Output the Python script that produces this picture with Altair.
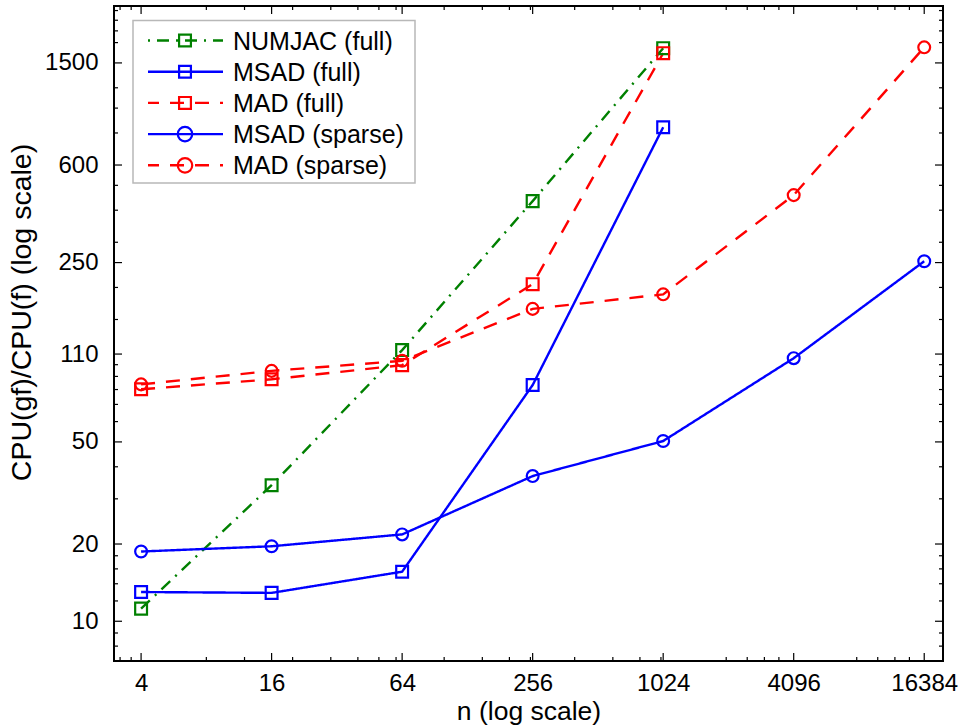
import altair as alt
import pandas as pd

# ---------------- data ----------------
n_full = [4, 16, 64, 256, 1024]
n_sparse = [4, 16, 64, 256, 1024, 4096, 16384]
numjac_full = [11.2, 33.9, 114, 434, 1712]
msad_full = [13.0, 12.9, 15.6, 83.3, 842]
mad_full = [80.2, 87.7, 99.6, 206, 1637]
msad_sparse = [18.7, 19.6, 21.8, 36.8, 50.4, 106, 253]
mad_sparse = [83.8, 94.6, 103.5, 165, 188, 458, 1725]

series_names = ["NUMJAC (full)", "MSAD (full)", "MAD (full)", "MSAD (sparse)", "MAD (sparse)"]
series_colors = ["#008000", "#0000ff", "#ff0000", "#0000ff", "#ff0000"]
series_dash = [[12, 7, 2, 7], [1, 0], [14, 11], [1, 0], [14, 11]]
series_shape = ["square", "square", "square", "circle", "circle"]
series_size = [140, 140, 140, 210, 210]

x_major = [4, 16, 64, 256, 1024, 4096, 16384]
x_minor = [3.2, 3.6, 8, 12, 20, 30, 40, 50, 60, 100, 150, 200, 250, 400, 600, 800,
           1000, 2000, 2500, 3000, 3500, 8000, 10000, 12000, 14000]
y_major = [10, 20, 50, 110, 250, 600, 1500]
y_minor = [8, 9, 12, 14, 16, 18, 30, 40, 60, 70, 80, 90, 100, 150, 200, 300, 400, 500,
           800, 1000, 1200, 1800, 2000, 2200, 2400]

x_domain = [3, 20000]
y_domain = [7, 2500]

# ---------------- layout ----------------
W, H = 829, 655
FONT = "Liberation Sans"

rows = []
for name, xs, ys in [
    (series_names[0], n_full, numjac_full),
    (series_names[1], n_full, msad_full),
    (series_names[2], n_full, mad_full),
    (series_names[3], n_sparse, msad_sparse),
    (series_names[4], n_sparse, mad_sparse),
]:
    for xv, yv in zip(xs, ys):
        rows.append({"series": name, "n": xv, "v": yv})
df = pd.DataFrame(rows)

xscale = alt.Scale(type="log", domain=x_domain, nice=False)
yscale = alt.Scale(type="log", domain=y_domain, nice=False)

color = alt.Color("series:N", scale=alt.Scale(domain=series_names, range=series_colors), legend=None)
dash = alt.StrokeDash("series:N", scale=alt.Scale(domain=series_names, range=series_dash), legend=None)
shape = alt.Shape("series:N", scale=alt.Scale(domain=series_names, range=series_shape), legend=None)
size = alt.Size("series:N", scale=alt.Scale(domain=series_names, range=series_size), legend=None)

x_axis = alt.Axis(values=x_major, format="d", ticks=False, domain=False, grid=False,
                  labelFontSize=24, labelFont=FONT, labelColor="black", labelPadding=10,
                  labelFlush=False, labelOverlap=False,
                  title="n (log scale)", titleFontSize=26.5, titleFont=FONT,
                  titleFontWeight="normal", titleColor="black", titlePadding=3)
y_axis = alt.Axis(values=y_major, format="d", ticks=False, domain=False, grid=False,
                  labelFontSize=24, labelFont=FONT, labelColor="black", labelPadding=16,
                  labelFlush=False, labelOverlap=False,
                  title="CPU(gf)/CPU(f) (log scale)", titleFontSize=28.5, titleFont=FONT,
                  titleFontWeight="normal", titleColor="black", titlePadding=8,
                  titleY=306)

X = lambda f: alt.X(f, scale=xscale, axis=x_axis)
Y = lambda f: alt.Y(f, scale=yscale, axis=y_axis)

lines = alt.Chart(df).mark_line(strokeWidth=2.4, clip=True).encode(
    x=X("n:Q"), y=Y("v:Q"), color=color, strokeDash=dash,
)

points = alt.Chart(df).mark_point(filled=False, strokeWidth=2.2, opacity=1, clip=True).encode(
    x=X("n:Q"), y=Y("v:Q"), color=color, shape=shape, size=size,
)

# ---------------- inward ticks on all four sides ----------------
def xticks(vals, length):
    d = pd.DataFrame({"t": vals})
    bottom = alt.Chart(d).mark_rule(color="black", strokeWidth=1.2).encode(
        x=X("t:Q"), y=alt.value(H), y2=alt.value(H - length))
    top = alt.Chart(d).mark_rule(color="black", strokeWidth=1.2).encode(
        x=X("t:Q"), y=alt.value(0), y2=alt.value(length))
    return [bottom, top]

def yticks(vals, length):
    d = pd.DataFrame({"t": vals})
    left = alt.Chart(d).mark_rule(color="black", strokeWidth=1.2).encode(
        y=Y("t:Q"), x=alt.value(0), x2=alt.value(length))
    right = alt.Chart(d).mark_rule(color="black", strokeWidth=1.2).encode(
        y=Y("t:Q"), x=alt.value(W), x2=alt.value(W - length))
    return [left, right]

tick_layers = xticks(x_major, 8) + xticks(x_minor, 4) + yticks(y_major, 8) + yticks(y_minor, 4)

# ---------------- legend (drawn by hand) ----------------
one = pd.DataFrame({"a": [0]})
legend_layers = [
    alt.Chart(one).mark_rect(fill="white", stroke="#b8b8b8", strokeWidth=1.5).encode(
        x=alt.value(19), x2=alt.value(301), y=alt.value(14.5), y2=alt.value(177))
]
LX0, LX1, LMX, LTX = 34, 109, 71, 119
for i, name in enumerate(series_names):
    ly = 34.5 + 31.2 * i
    offs = 19 if i == 0 else (3 if series_dash[i] != [1, 0] else 0)
    legend_layers.append(
        alt.Chart(one).mark_rule(color=series_colors[i], strokeWidth=2.4,
                                 strokeDash=series_dash[i], strokeDashOffset=offs).encode(
            x=alt.value(LX0), x2=alt.value(LX1), y=alt.value(ly)))
    legend_layers.append(
        alt.Chart(one).mark_point(filled=False, strokeWidth=2.2, opacity=1,
                                  color=series_colors[i], shape=series_shape[i],
                                  size=series_size[i]).encode(
            x=alt.value(LMX), y=alt.value(ly)))
    legend_layers.append(
        alt.Chart(one).mark_text(align="left", baseline="middle", fontSize=25, font=FONT,
                                 color="black").encode(
            x=alt.value(LTX), y=alt.value(ly + 1), text=alt.value(name)))

chart = alt.layer(lines, points, *tick_layers, *legend_layers).properties(
    width=W, height=H,
    autosize=alt.AutoSizeParams(type="none"),
    padding={"left": 114, "top": 6, "right": 18, "bottom": 66},
    background="white",
).configure_view(stroke="black", strokeWidth=2)

chart.save("out.html", embed_options={"renderer": "svg", "actions": False})
